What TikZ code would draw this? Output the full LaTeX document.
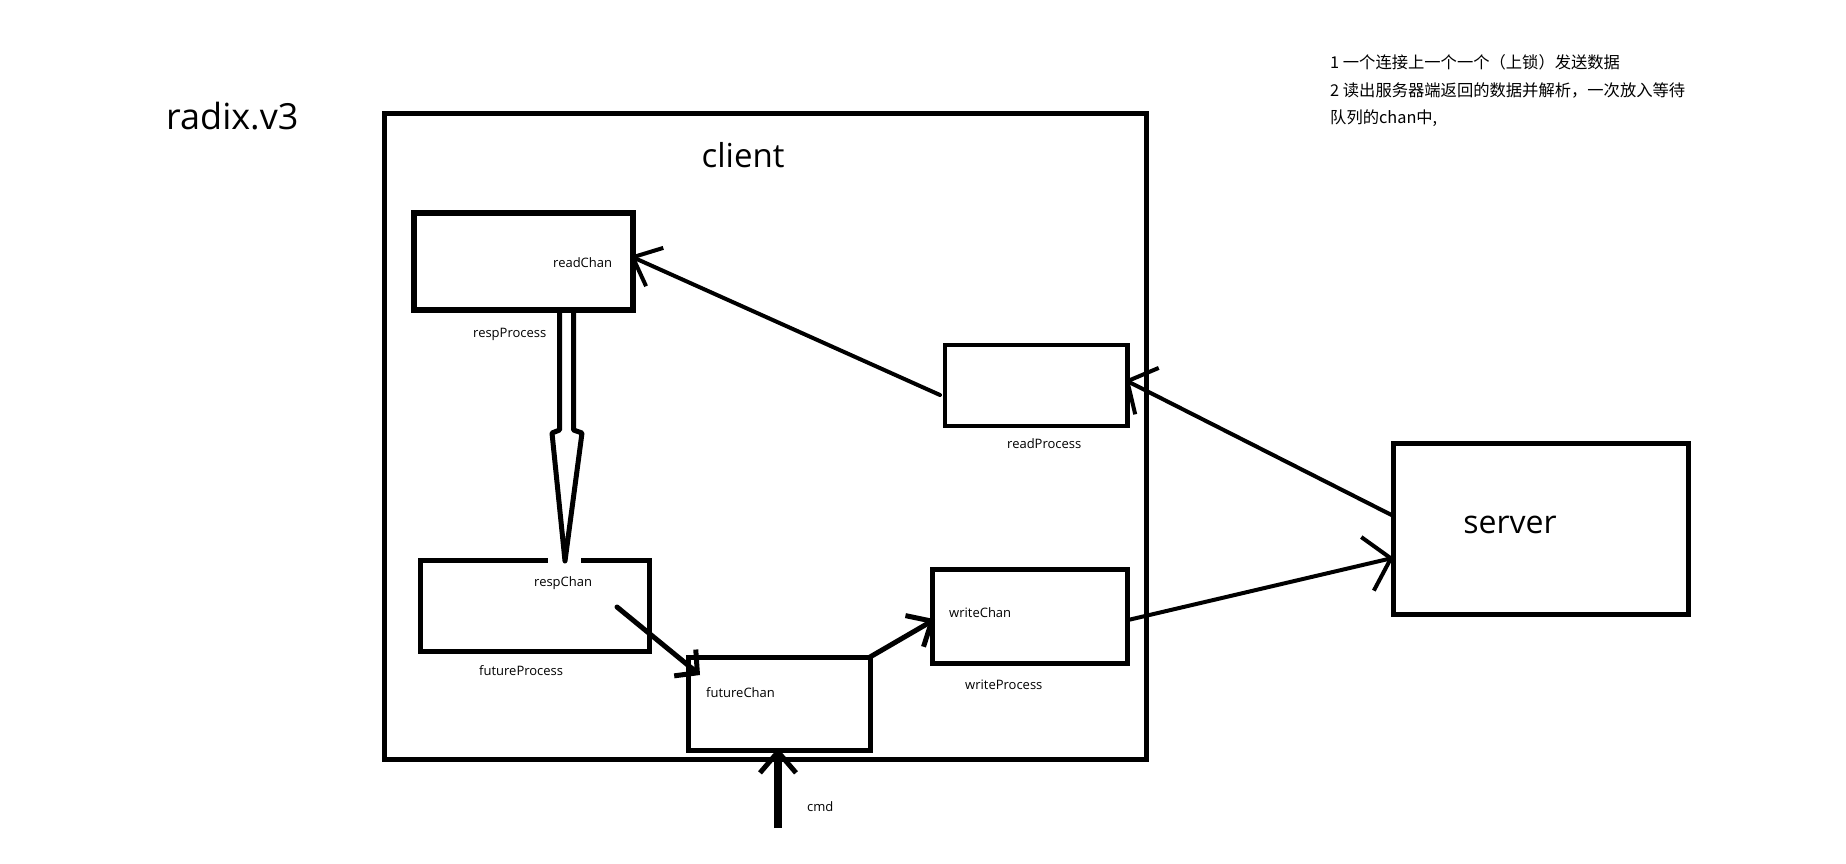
\documentclass[tikz,border=0pt]{standalone}
\usepackage{fontspec}
\setmainfont{Open Sans}
\newfontfamily\cjk{Noto Sans CJK SC}
\usetikzlibrary{arrows.meta,calc}

\begin{document}
\begin{tikzpicture}[x=1pt,y=-1pt,
  blk/.style={draw, line width=5pt, inner sep=0pt, outer sep=0pt, anchor=north west},
  lbl/.style={anchor=base west, inner sep=0pt, font=\fontsize{13}{15}\selectfont},
  big/.style={anchor=base, inner sep=0pt, font=\fontsize{#1}{#1}\selectfont},
  note/.style={anchor=base west, inner sep=0pt, font=\cjk\fontsize{16.3}{18}\selectfont},
  conn/.style={line width=4pt, line cap=round, line join=round},
]
\useasboundingbox[fill=white] (0,0) rectangle (1846,864);

% title and notes
\node[big=36, anchor=base west] (title) at (166,130) {radix.v3};
\node[note] (note1) at (1330,69) {1 一个连接上一个一个（上锁）发送数据};
\node[note] (note2) at (1330,97) {2 读出服务器端返回的数据并解析，一次放入等待};
\node[note] (note3) at (1330,124) {队列的chan中,};

% client frame and its parts
\node[blk, minimum width=762, minimum height=645.5] (clientBox) at (384,114) {};
\node[big=33] (clientLbl) at (743,167) {client};

\node[blk, line width=6pt, minimum width=219, minimum height=97] (readBox) at (414,213) {};
\node[lbl] (readChanLbl) at (553,267) {readChan};
\node[lbl] (respProcLbl) at (473,337) {respProcess};

\node[blk, line width=4.5pt, minimum width=182.5, minimum height=81] (readProcBox) at (945,345) {};
\node[lbl] (readProcLbl) at (1007,448) {readProcess};

\node[blk, minimum width=229, minimum height=91] (respBox) at (420,560) {};
\node[lbl] (respChanLbl) at (534,586) {respChan};
\node[lbl] (futureProcLbl) at (479,675) {futureProcess};

\node[blk, minimum width=182, minimum height=93.5] (futureBox) at (688,657) {};
\node[lbl] (futureChanLbl) at (706,697) {futureChan};

\node[blk, minimum width=195, minimum height=93.5] (writeBox) at (932,569.5) {};
\node[lbl] (writeChanLbl) at (949,617) {writeChan};
\node[lbl] (writeProcLbl) at (965,689) {writeProcess};

% server
\node[blk, minimum width=294.5, minimum height=171.5] (serverBox) at (1393.5,443) {};
\node[big=32] (serverLbl) at (1510,533) {server};

% hollow double arrow from readChan down to respChan
\coordinate (sL) at ($(readBox.south west)+(145.5,0)$);
\coordinate (sR) at ($(readBox.south west)+(159.5,0)$);
\coordinate (tipR) at ($(respBox.north)+(30.5,1)$);
\fill[white] ($(respBox.north)+(13,-3)$) rectangle ($(respBox.north)+(46,3.5)$);
\draw[line width=5pt, line join=round, line cap=round]
  (sL) -- ($(sL)+(0,120)$) -- ($(sL)+(-7.5,123)$) -- (tipR)
  -- ($(sR)+(8.5,123)$) -- ($(sR)+(0,120)$) -- (sR);

% readProcess -> readChan
\draw[conn, -{Straight Barb[length=24pt,width=42pt]}]
  ($(readProcBox.west)+(-5,9.5)$) -- ($(readBox.east)+(-3,-5.5)$);

% server -> readProcess
\draw[conn, -{Straight Barb[length=22pt,width=52pt]}]
  ($(serverBox.west)+(0,-12.75)$) -- ($(readProcBox.east)+(-2.5,-5.5)$);

% writeProcess -> server
\draw[conn, -{Straight Barb[length=24pt,width=55pt]}]
  ($(writeBox.east)+(0,4)$) -- ($(serverBox.west)+(0,29)$);

% respChan -> futureChan
\coordinate (rcStart) at (617,607);
\draw[conn, line width=5pt, -{Straight Barb[length=16pt,width=34pt]}]
  (rcStart) -- ($(futureBox.north west)+(12,18)$);

% futureChan -> writeChan
\draw[conn, line width=5pt, -{Straight Barb[length=20pt,width=36pt]}]
  (futureBox.north east) -- ($(writeBox.west)+(3,3)$);

% cmd input
\coordinate (cmdIn) at (778,828);
\draw[line width=8pt, -{Straight Barb[length=21pt,width=36pt,line width=5pt]}]
  (cmdIn) -- ($(futureBox.south)+(-1,-2.5)$);
\node[lbl] (cmdLbl) at (807,811) {cmd};
\end{tikzpicture}
\end{document}
